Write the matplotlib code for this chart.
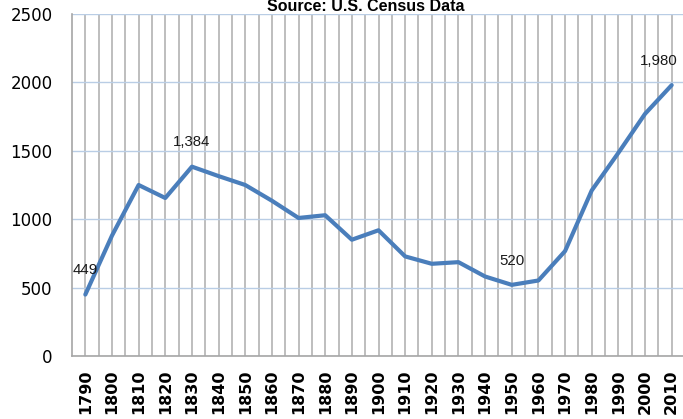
import matplotlib.pyplot as plt
from matplotlib.ticker import MultipleLocator

# Data
years = list(range(1790, 2011, 10))
values = [449, 880, 1250, 1155, 1384, 1315, 1250, 1135, 1009, 1029, 850, 919,
          728, 674, 686, 581, 520, 552, 767, 1210, 1485, 1770, 1980]
labelled_years = [1790, 1830, 1950, 2010]
yticks = [0, 500, 1000, 1500, 2000, 2500]
title = "Source: U.S. Census Data"

line_color = "#4A7EBB"

fig = plt.figure(figsize=(6.83, 4.19), dpi=100)
ax = fig.add_axes([72 / 683, 63 / 419, 613 / 683, 342 / 419])

ax.plot(years, values, color=line_color, lw=3.0, solid_capstyle="round",
        solid_joinstyle="round", zorder=3)

# data labels
for yr in labelled_years:
    v = values[years.index(yr)]
    dx = -9.5 if yr == years[-1] else 0
    ax.annotate(f"{v:,}", xy=(yr, v), xytext=(dx, 17.5), textcoords="offset points",
                ha="center", va="center", fontsize=10.8, family="Liberation Sans",
                color="#1a1a1a", zorder=4)

ax.set_xlim(1785, 2015)
ax.set_ylim(0, 2500)
ax.set_xticks(years)
ax.set_xticklabels([str(y) for y in years], rotation=90, fontweight="bold",
                   fontsize=11.5, family="DejaVu Sans")
ax.xaxis.set_minor_locator(MultipleLocator(10))
ax.set_xticks([y + 5 for y in years], minor=True)
ax.set_yticks(yticks)
ax.set_yticklabels([str(t) for t in yticks], fontsize=12, family="DejaVu Sans")

ax.tick_params(axis="both", which="both", length=0)
ax.tick_params(axis="x", pad=10)
ax.tick_params(axis="y", pad=14)

ax.grid(axis="x", which="both", color="#BEBEBE", lw=1.4)
ax.grid(axis="y", which="major", color="#B9CDE5", lw=1.0)
ax.set_axisbelow(True)

for s in ["top", "right"]:
    ax.spines[s].set_visible(False)
for s in ["left", "bottom"]:
    ax.spines[s].set_color("#A6A6A6")
    ax.spines[s].set_linewidth(1.2)

fig.text(365.5 / 683, 1 - 10.7 / 419, title, ha="center", va="baseline",
         fontsize=11.5, fontweight="bold", family="Liberation Sans")

fig.savefig("out.png", dpi=100)
